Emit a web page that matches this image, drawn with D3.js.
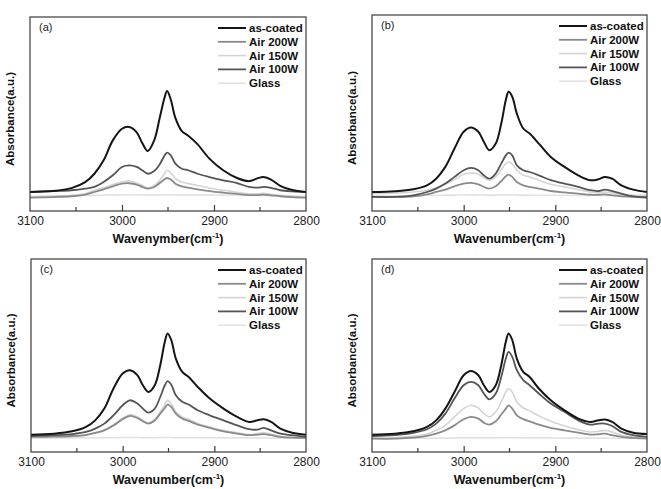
<!DOCTYPE html>
<html>
<head>
<meta charset="utf-8">
<script src="https://cdn.jsdelivr.net/npm/d3@7"></script>
<style>
  body { margin: 0; background: #fff; }
  text { font-family: "Liberation Sans", Arial, sans-serif; }
</style>
</head>
<body>
<div id="chart"></div>
<script>
// wavenumber grid (cm-1), shared by all spectra
const wavenumbers = [3100, 3075, 3055, 3040, 3030, 3020, 3010, 3000, 2992, 2984, 2978, 2972, 2965, 2959, 2954, 2951, 2947, 2942, 2935, 2928, 2918, 2905, 2890, 2875, 2862, 2853, 2846, 2838, 2828, 2815, 2800];
const seriesNames = ["as-coated", "Air 200W", "Air 150W", "Air 100W", "Glass"];
const xTicks = [3100, 3000, 2900, 2800];
const xMinorTicks = [3050, 2950, 2850];
const panelLabels = ["(a)", "(b)", "(c)", "(d)"];
const xTitles = ["Wavenymber", "Wavenumber", "Wavenumber", "Wavenumber"];

// absorbance (a.u.) - panel (a)
const asCoatedA = [9.8, 10.3, 11.8, 14.9, 19.2, 26.1, 36.4, 42.4, 43.3, 40.5, 35.0, 30.9, 36.4, 48.0, 58.0, 61.9, 57.5, 48.0, 41.2, 38.8, 34.5, 27.0, 21.0, 17.0, 15.4, 16.8, 17.5, 16.2, 13.0, 10.8, 9.8];
const air200A = [6.9, 7.2, 7.6, 8.4, 9.8, 11.2, 12.7, 14.1, 14.3, 13.6, 12.4, 11.5, 12.4, 14.4, 16.2, 17.0, 16.2, 14.1, 12.7, 12.0, 11.2, 10.3, 9.5, 8.8, 8.2, 8.2, 8.4, 8.1, 7.6, 7.2, 6.9];
const air150A = [7.2, 7.6, 8.1, 8.9, 10.7, 12.0, 13.7, 14.9, 15.5, 14.4, 13.2, 12.0, 13.2, 15.8, 19.2, 21.0, 19.6, 16.7, 14.9, 14.1, 13.1, 11.9, 10.7, 9.6, 8.9, 8.9, 9.1, 8.6, 8.1, 7.6, 7.2];
const air100A = [9.8, 10.3, 10.7, 11.5, 12.4, 14.9, 18.4, 22.7, 23.5, 22.7, 21.0, 19.2, 20.6, 24.1, 28.4, 30.1, 28.7, 24.4, 21.8, 21.0, 19.2, 17.5, 15.8, 14.4, 12.4, 12.0, 12.4, 11.9, 10.7, 10.1, 9.8];
const glassA = [7.6, 7.7, 7.8, 8.0, 8.1, 8.2, 8.3, 8.3, 8.4, 8.4, 8.3, 8.3, 8.3, 8.3, 8.4, 8.4, 8.4, 8.3, 8.3, 8.3, 8.3, 8.2, 8.2, 8.1, 8.0, 8.0, 8.0, 7.9, 7.8, 7.7, 7.6];

// panel (b)
const asCoatedB = [9.7, 10.1, 11.1, 13.1, 16.5, 22.5, 31.9, 40.4, 42.6, 40.4, 35.3, 31.0, 34.4, 44.6, 56.6, 60.8, 58.3, 49.7, 42.1, 39.5, 34.4, 27.6, 22.5, 18.2, 15.7, 16.2, 17.4, 16.5, 13.1, 10.9, 9.7];
const air200B = [7.2, 7.2, 7.5, 8.5, 9.7, 10.9, 12.6, 14.0, 14.3, 13.6, 12.3, 11.4, 12.6, 15.3, 17.7, 18.6, 17.4, 14.8, 13.1, 12.3, 11.4, 10.2, 9.5, 8.9, 8.3, 8.3, 8.5, 8.0, 7.5, 7.2, 7.2];
const air150B = [8.9, 9.2, 9.7, 10.6, 11.9, 13.6, 16.0, 18.7, 19.4, 18.7, 17.0, 15.7, 17.4, 21.1, 24.2, 25.0, 23.9, 20.8, 18.2, 17.4, 15.7, 13.6, 12.3, 10.9, 9.7, 9.5, 9.7, 9.2, 8.3, 8.0, 8.0];
const air100B = [7.2, 7.2, 8.0, 9.7, 11.4, 14.0, 17.4, 20.8, 22.0, 20.8, 18.2, 16.5, 19.1, 24.2, 28.4, 29.8, 28.4, 23.3, 20.8, 19.9, 18.2, 15.7, 14.0, 12.3, 10.6, 10.2, 10.9, 10.2, 8.9, 7.5, 6.8];
const glassB = [7.8, 7.8, 7.9, 8.0, 8.0, 8.1, 8.1, 8.2, 8.2, 8.2, 8.1, 8.1, 8.1, 8.2, 8.2, 8.2, 8.2, 8.1, 8.1, 8.1, 8.0, 8.0, 8.0, 7.9, 7.9, 7.9, 7.9, 7.8, 7.8, 7.7, 7.7];

// panel (c)
const asCoatedC = [9.0, 9.5, 10.7, 13.0, 16.4, 22.5, 32.9, 40.7, 42.4, 39.8, 34.6, 31.1, 34.6, 45.0, 57.1, 61.4, 58.0, 48.4, 41.5, 38.9, 33.7, 27.7, 22.5, 18.2, 15.6, 16.4, 17.0, 15.6, 12.1, 10.0, 9.0];
const air200C = [7.8, 8.0, 8.3, 8.8, 9.9, 11.2, 13.7, 17.0, 18.7, 17.6, 15.9, 14.7, 16.3, 19.9, 22.8, 24.6, 23.4, 19.9, 17.3, 16.1, 14.2, 12.5, 10.7, 9.5, 8.7, 9.0, 9.3, 8.7, 7.8, 7.4, 7.3];
const air150C = [7.8, 8.0, 8.3, 9.0, 10.0, 11.6, 14.2, 17.6, 19.4, 18.3, 16.4, 15.1, 17.0, 20.8, 24.6, 26.8, 25.1, 20.8, 18.2, 17.0, 14.7, 13.0, 11.2, 10.0, 9.0, 9.5, 10.0, 9.2, 8.1, 7.6, 7.3];
const air100C = [8.3, 8.7, 9.3, 10.4, 12.1, 14.7, 19.0, 24.2, 26.8, 25.1, 22.5, 20.4, 22.5, 28.5, 34.6, 36.7, 34.9, 29.4, 26.0, 24.6, 21.6, 19.0, 16.4, 13.8, 11.8, 11.6, 12.5, 11.2, 9.5, 8.7, 7.8];
const glassC = [7.2, 7.2, 7.3, 7.3, 7.4, 7.4, 7.4, 7.5, 7.5, 7.5, 7.4, 7.4, 7.4, 7.5, 7.5, 7.5, 7.5, 7.4, 7.4, 7.4, 7.4, 7.3, 7.3, 7.3, 7.3, 7.3, 7.3, 7.2, 7.2, 7.2, 7.1];

// panel (d)
const asCoatedD = [9.0, 9.5, 10.7, 13.0, 16.4, 22.5, 31.1, 39.8, 42.0, 39.8, 34.6, 31.1, 34.6, 45.0, 57.1, 61.4, 58.0, 48.4, 41.5, 38.9, 32.9, 26.8, 21.6, 17.3, 15.6, 16.4, 16.8, 15.6, 12.1, 10.0, 9.3];
const air200D = [6.9, 6.9, 7.4, 8.3, 9.5, 11.2, 13.8, 17.0, 18.2, 17.3, 15.2, 14.2, 15.9, 19.4, 22.5, 24.2, 22.5, 19.0, 17.0, 15.9, 14.2, 12.5, 11.2, 10.0, 9.0, 9.2, 9.5, 8.7, 7.8, 7.3, 6.9];
const air150D = [7.3, 7.4, 8.1, 9.3, 11.2, 13.8, 18.2, 22.5, 24.2, 22.8, 19.9, 18.2, 20.8, 26.0, 31.1, 32.9, 31.1, 26.0, 22.8, 21.3, 18.7, 15.9, 13.5, 11.6, 10.4, 10.7, 11.2, 10.4, 8.7, 7.8, 7.3];
const air100D = [8.3, 8.7, 9.9, 11.8, 14.7, 19.9, 27.7, 34.6, 36.3, 34.6, 30.3, 27.3, 30.3, 38.9, 48.4, 51.9, 49.3, 42.4, 37.2, 34.6, 30.3, 25.1, 20.8, 16.4, 14.2, 14.7, 14.7, 13.5, 10.4, 8.7, 7.8];
const glassD = [7.0, 7.0, 7.1, 7.1, 7.2, 7.2, 7.3, 7.3, 7.3, 7.3, 7.3, 7.3, 7.3, 7.3, 7.4, 7.4, 7.4, 7.3, 7.3, 7.3, 7.3, 7.3, 7.2, 7.2, 7.2, 7.2, 7.2, 7.1, 7.1, 7.1, 7.0];

const panelData = [
  [asCoatedA, air200A, air150A, air100A, glassA],
  [asCoatedB, air200B, air150B, air100B, glassB],
  [asCoatedC, air200C, air150C, air100C, glassC],
  [asCoatedD, air200D, air150D, air100D, glassD]
];

// styling
const colors = ["#151515", "#8a8a8a", "#d4d4d4", "#555555", "#e2e2e2"];
const widths = [2, 1.8, 1.6, 1.8, 1.6];
const drawOrder = [4, 2, 1, 3, 0];

// frame boxes (left, top, right, bottom)
const frames = [
  {l: 30, t: 17, r: 306, b: 211},
  {l: 372, t: 15, r: 647, b: 211},
  {l: 31, t: 259, r: 306, b: 452},
  {l: 372, t: 259, r: 647, b: 452}
];

const width = 661, height = 489;
const svg = d3.select("#chart").append("svg")
  .attr("width", width)
  .attr("height", height)
  .style("display", "block");

svg.append("rect").attr("width", width).attr("height", height).attr("fill", "#fff");

frames.forEach((f, p) => {
  const g = svg.append("g");

  const x = d3.scaleLinear().domain([3100, 2800]).range([f.l, f.r]);
  const y = d3.scaleLinear().domain([0, 100]).range([f.b, f.t]);

  // spectra
  const line = d3.line()
    .x((d, i) => x(wavenumbers[i]))
    .y(d => y(d))
    .curve(d3.curveCatmullRom.alpha(0.5));

  drawOrder.forEach(s => {
    g.append("path")
      .datum(panelData[p][s])
      .attr("d", line)
      .attr("fill", "none")
      .attr("stroke", colors[s])
      .attr("stroke-width", widths[s])
      .attr("stroke-linejoin", "round");
  });

  // frame
  g.append("rect")
    .attr("x", f.l).attr("y", f.t)
    .attr("width", f.r - f.l).attr("height", f.b - f.t)
    .attr("fill", "none")
    .attr("stroke", "#3a3a3a")
    .attr("stroke-width", 1.2);

  // bottom axis, ticks pointing inward
  const axis = g.append("g")
    .attr("transform", `translate(0,${f.b})`)
    .call(d3.axisBottom(x).tickValues(xTicks).tickSize(-6).tickPadding(5).tickFormat(d3.format("d")));
  axis.select(".domain").remove();
  axis.selectAll("line").attr("stroke", "#3a3a3a").attr("stroke-width", 1.2);
  axis.selectAll("text")
    .attr("fill", "#222")
    .style("font-size", "12px");
  axis.selectAll(".tick").filter((d, i) => i === 0 || i === xTicks.length - 1).select("line").remove();

  g.append("g")
    .selectAll("line")
    .data(xMinorTicks)
    .join("line")
    .attr("x1", d => x(d)).attr("x2", d => x(d))
    .attr("y1", f.b).attr("y2", f.b - 4)
    .attr("stroke", "#3a3a3a")
    .attr("stroke-width", 1.2);

  // x title with superscript
  const xt = g.append("text")
    .attr("x", (f.l + f.r) / 2)
    .attr("y", f.b + 32)
    .attr("text-anchor", "middle")
    .style("font-size", "12.5px")
    .style("font-weight", "bold")
    .attr("fill", "#111");
  xt.append("tspan").text(xTitles[p] + "(cm");
  xt.append("tspan").attr("dy", -5).style("font-size", "8px").text("-1");
  xt.append("tspan").attr("dy", 5).text(")");

  // y title
  g.append("text")
    .attr("transform", `translate(${f.l - 16},${(f.t + f.b) / 2 + 5}) rotate(-90)`)
    .attr("text-anchor", "middle")
    .style("font-size", "11.5px")
    .style("font-weight", "bold")
    .attr("fill", "#111")
    .text("Absorbance(a.u.)");

  // panel label
  g.append("text")
    .attr("x", f.l + 9)
    .attr("y", f.t + 14)
    .style("font-size", "11px")
    .attr("fill", "#222")
    .text(panelLabels[p]);

  // legend
  const lg = g.append("g")
    .selectAll("g")
    .data(seriesNames)
    .join("g")
    .attr("transform", (d, i) => `translate(${f.r - 88},${f.t + 11 + i * 13.8})`);
  lg.append("line")
    .attr("x1", 0).attr("x2", 28)
    .attr("stroke", (d, i) => colors[i])
    .attr("stroke-width", (d, i) => widths[i]);
  lg.append("text")
    .attr("x", 31)
    .attr("dy", "0.35em")
    .style("font-size", "11.5px")
    .style("font-weight", "bold")
    .attr("fill", "#111")
    .text(d => d);
});
</script>
</body>
</html>
